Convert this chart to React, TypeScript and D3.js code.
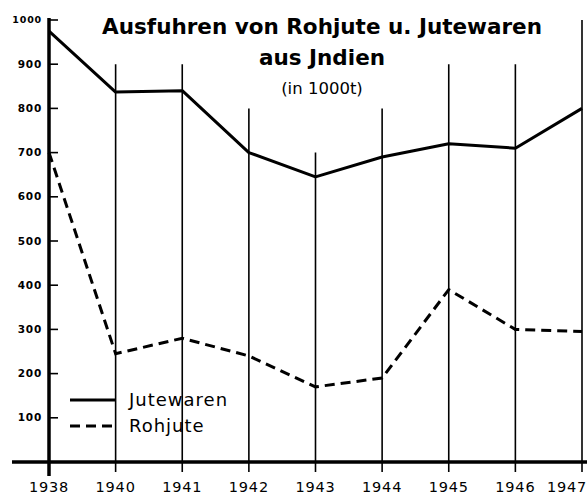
import { useEffect, useRef } from "react";
import * as d3 from "d3";

// Jahre (1939 fehlt im Original)
const years = ["1938", "1940", "1941", "1942", "1943", "1944", "1945", "1946", "1947"];
// Ausfuhren in 1000 t
const jutewaren = [975, 837, 840, 700, 645, 690, 720, 710, 800];
const rohjute = [700, 245, 280, 240, 170, 190, 390, 300, 295];
// Höhe der senkrechten Linien je Jahr
const gridTops = [1000, 900, 900, 800, 700, 800, 900, 900, 1000];
const yTicks = [100, 200, 300, 400, 500, 600, 700, 800, 900, 1000];

const W = 587;
const H = 495;

const App = () => {
  const ref = useRef<SVGSVGElement>(null);

  useEffect(() => {
    const svg = d3.select(ref.current);
    svg.selectAll("*").remove();

    const x = d3.scalePoint().domain(years).range([49, 582]);
    const y = d3.scaleLinear().domain([0, 1000]).range([462, 20]);
    const font = "'DejaVu Sans', Verdana, sans-serif";

    // senkrechte Linien
    svg.append("g")
      .selectAll("line")
      .data(years.slice(1))
      .enter().append("line")
      .attr("x1", d => x(d)!)
      .attr("x2", d => x(d)!)
      .attr("y1", (d, i) => y(gridTops[i + 1]))
      .attr("y2", y(0) + 10)
      .attr("stroke", "#000")
      .attr("stroke-width", 1.6);

    // x-Achse
    svg.append("line")
      .attr("x1", 12).attr("x2", W)
      .attr("y1", y(0)).attr("y2", y(0))
      .attr("stroke", "#000").attr("stroke-width", 3.5);

    // y-Achse
    svg.append("line")
      .attr("x1", x("1938")!).attr("x2", x("1938")!)
      .attr("y1", y(1000) - 2).attr("y2", y(0) + 14)
      .attr("stroke", "#000").attr("stroke-width", 3.5);

    const yg = svg.append("g");
    yg.selectAll("line")
      .data(yTicks)
      .enter().append("line")
      .attr("x1", x("1938")!).attr("x2", x("1938")! + 9)
      .attr("y1", d => y(d)).attr("y2", d => y(d))
      .attr("stroke", "#000").attr("stroke-width", 1.6);
    yg.selectAll("text")
      .data(yTicks)
      .enter().append("text")
      .attr("x", 42)
      .attr("y", d => y(d))
      .attr("dy", "0.35em")
      .attr("text-anchor", "end")
      .attr("font-family", font)
      .attr("font-weight", "bold")
      .attr("font-size", d => (d === 1000 ? 9.5 : 10.5))
      .attr("letter-spacing", 0.8)
      .text(d => d);

    svg.append("g")
      .selectAll("text")
      .data(years)
      .enter().append("text")
      .attr("x", (d, i) => (i === years.length - 1 ? 587 : x(d)!))
      .attr("y", 492)
      .attr("text-anchor", (d, i) => (i === years.length - 1 ? "end" : "middle"))
      .attr("font-family", font)
      .attr("font-size", 14.5)
      .attr("letter-spacing", 0.8)
      .text(d => d);

    const line = d3.line<number>()
      .x((d, i) => x(years[i])!)
      .y(d => y(d));

    svg.append("path")
      .attr("d", line(jutewaren)!)
      .attr("fill", "none")
      .attr("stroke", "#000")
      .attr("stroke-width", 3)
      .attr("stroke-linejoin", "round");

    svg.append("path")
      .attr("d", line(rohjute)!)
      .attr("fill", "none")
      .attr("stroke", "#000")
      .attr("stroke-width", 3)
      .attr("stroke-dasharray", "10,6");

    // Titel
    const title = [
      { t: "Ausfuhren von Rohjute u. Jutewaren", y: 34, s: 21.5, w: "bold" },
      { t: "aus Jndien", y: 65, s: 21.5, w: "bold" },
      { t: "(in 1000t)", y: 94, s: 16.5, w: "normal" },
    ];
    svg.append("g")
      .selectAll("text")
      .data(title)
      .enter().append("text")
      .attr("x", 322)
      .attr("y", d => d.y)
      .attr("text-anchor", "middle")
      .attr("font-family", font)
      .attr("font-size", d => d.s)
      .attr("font-weight", d => d.w)
      .text(d => d.t);

    // Legende
    const legend = [
      { name: "Jutewaren", dash: null, yy: 400 },
      { name: "Rohjute", dash: "10,6", yy: 426 },
    ];
    const lg = svg.append("g");
    legend.forEach(l => {
      lg.append("line")
        .attr("x1", 70).attr("x2", 116)
        .attr("y1", l.yy).attr("y2", l.yy)
        .attr("stroke", "#000").attr("stroke-width", 3)
        .attr("stroke-dasharray", l.dash);
      lg.append("text")
        .attr("x", 129).attr("y", l.yy)
        .attr("dy", "0.35em")
        .attr("font-family", font)
        .attr("font-size", 18)
        .attr("letter-spacing", 1)
        .text(l.name);
    });
  }, []);

  return (
    <svg
      ref={ref}
      width={W}
      height={H}
      style={{ position: "absolute", left: 0, top: 0, background: "#fff" }}
    />
  );
};

export default App;
